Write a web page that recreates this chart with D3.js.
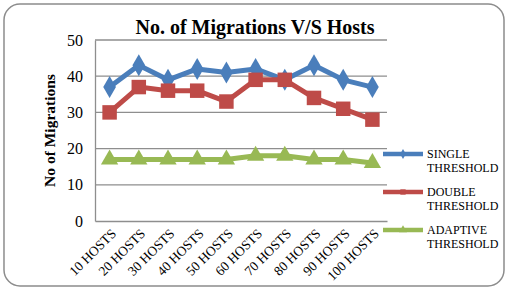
<!DOCTYPE html>
<html>
<head>
<meta charset="utf-8">
<script src="https://cdn.jsdelivr.net/npm/d3@7"></script>
<style>
    body { margin: 0; background: #fff; }
    text { font-family: "Liberation Serif", "Times New Roman", serif; }
</style>
</head>
<body>
<svg width="509" height="291"></svg>
<script>
// data
const hosts = ["10 HOSTS", "20 HOSTS", "30 HOSTS", "40 HOSTS", "50 HOSTS", "60 HOSTS", "70 HOSTS", "80 HOSTS", "90 HOSTS", "100 HOSTS"];
const singleThreshold = [37, 43, 39, 42, 41, 42, 39, 43, 39, 37];
const doubleThreshold = [30, 37, 36, 36, 33, 39, 39, 34, 31, 28];
const adaptiveThreshold = [17, 17, 17, 17, 17, 18, 18, 17, 17, 16];
const yTicks = [0, 10, 20, 30, 40, 50];

const series = [
    { name: ["SINGLE", "THRESHOLD"], values: singleThreshold, color: "#4a7ebb", symbol: d3.symbolDiamond, size: 140 },
    { name: ["DOUBLE", "THRESHOLD"], values: doubleThreshold, color: "#be4b48", symbol: d3.symbolSquare, size: 210 },
    { name: ["ADAPTIVE", "THRESHOLD"], values: adaptiveThreshold, color: "#98b954", symbol: d3.symbolTriangle, size: 130 }
];

const plot = { left: 95, right: 387, top: 40, bottom: 221 };

const svg = d3.select("svg");

// outer frame
svg.append("rect")
    .attr("x", 4).attr("y", 4)
    .attr("width", 500).attr("height", 282)
    .attr("rx", 16)
    .attr("fill", "#fff")
    .attr("stroke", "#8c8c8c")
    .attr("stroke-width", 1.5);

const x = d3.scaleBand().domain(hosts).range([plot.left, plot.right]);
const y = d3.scaleLinear().domain([0, 50]).range([plot.bottom, plot.top]);

// grid
svg.append("g")
    .selectAll("line")
    .data(yTicks.filter(d => d > 0))
    .join("line")
    .attr("x1", plot.left).attr("x2", plot.right)
    .attr("y1", d => y(d)).attr("y2", d => y(d))
    .attr("stroke", "#8e8e8e")
    .attr("stroke-width", 1.3);

// y axis
svg.append("g")
    .attr("transform", `translate(${plot.left},0)`)
    .call(d3.axisLeft(y).tickValues(yTicks).tickSize(0).tickPadding(12))
    .call(g => g.select(".domain").attr("stroke", "#8e8e8e").attr("stroke-width", 1.3))
    .call(g => g.selectAll("text").attr("font-size", 16).attr("fill", "#000")
        .attr("font-family", "Liberation Serif"));

// x axis
svg.append("g")
    .attr("transform", `translate(0,${plot.bottom})`)
    .call(d3.axisBottom(x).tickSize(0).tickSizeOuter(0))
    .call(g => g.select(".domain").attr("stroke", "#8e8e8e").attr("stroke-width", 1.3))
    .call(g => g.selectAll("text")
        .attr("font-size", 13.5)
        .attr("font-family", "Liberation Serif")
        .attr("fill", "#000")
        .attr("text-anchor", "end")
        .attr("y", 0)
        .attr("dy", "0.35em")
        .attr("transform", "translate(4,10) rotate(-45)"));

// lines and markers
const line = d3.line()
    .x((d, i) => x(hosts[i]) + x.bandwidth() / 2)
    .y(d => y(d));

series.forEach(s => {
    svg.append("path")
        .datum(s.values)
        .attr("d", line)
        .attr("fill", "none")
        .attr("stroke", s.color)
        .attr("stroke-width", 5)
        .attr("stroke-linejoin", "round");

    svg.append("g")
        .selectAll("path")
        .data(s.values)
        .join("path")
        .attr("d", d3.symbol().type(s.symbol).size(s.size))
        .attr("transform", (d, i) => `translate(${x(hosts[i]) + x.bandwidth() / 2},${y(d)})`)
        .attr("fill", s.color);
});

// legend
const legend = svg.append("g")
    .selectAll("g")
    .data(series)
    .join("g")
    .attr("transform", (d, i) => `translate(383,${154 + i * 38})`);

legend.append("line")
    .attr("x1", 0).attr("x2", 40)
    .attr("stroke", d => d.color)
    .attr("stroke-width", 4.5);

legend.append("path")
    .attr("d", d => d3.symbol().type(d.symbol).size(28)())
    .attr("transform", "translate(20,0)")
    .attr("fill", d => d.color);

legend.append("text")
    .attr("x", 44)
    .attr("font-size", 12)
    .selectAll("tspan")
    .data(d => d.name)
    .join("tspan")
    .attr("x", 44)
    .attr("y", (d, i) => 4 + i * 14)
    .text(d => d);

// title
svg.append("text")
    .attr("x", 255).attr("y", 34)
    .attr("text-anchor", "middle")
    .attr("font-size", 20)
    .attr("font-weight", "bold")
    .text("No. of Migrations V/S Hosts");

// y axis title
svg.append("text")
    .attr("transform", `translate(55,${(plot.top + plot.bottom) / 2}) rotate(-90)`)
    .attr("text-anchor", "middle")
    .attr("font-size", 15.5)
    .attr("font-weight", "bold")
    .text("No of Migrations");
</script>
</body>
</html>
